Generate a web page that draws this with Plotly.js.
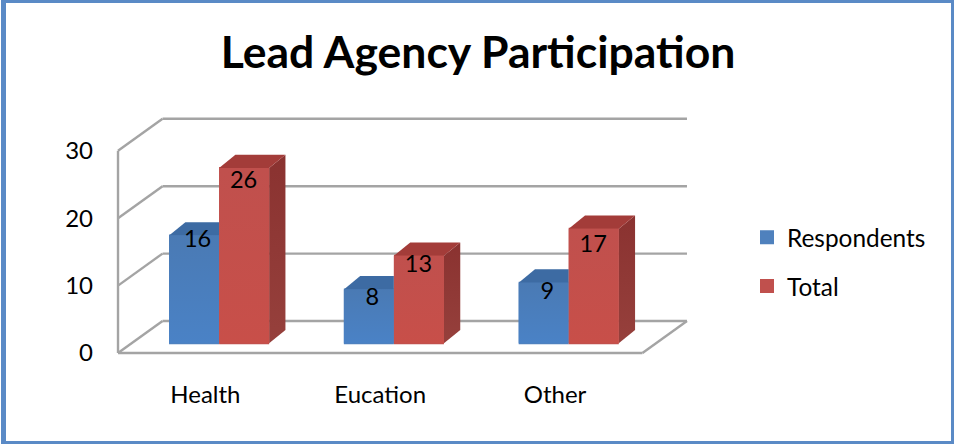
<!DOCTYPE html>
<html>
<head>
<meta charset="utf-8">
<script src="https://cdn.plot.ly/plotly-3.0.1.min.js"></script>
<style>
html,body{margin:0;padding:0;background:#fff;}
#chart{position:absolute;left:0;top:0;width:954px;height:444px;}
#frame{position:absolute;left:1px;top:0;width:953px;height:444px;box-sizing:border-box;border:3px solid #5a8ac6;border-left-width:5px;pointer-events:none;}
</style>
</head>
<body>
<div id="chart"></div>
<div id="frame"></div>
<script>
const categories = ["Health", "Eucation", "Other"];
const respondents = [16, 8, 9];
const total = [26, 13, 17];
const seriesNames = ["Respondents", "Total"];
const yTicks = [0, 10, 20, 30];
const titleText = "Lead Agency Participation";

// ---- projection of the fake 3D box, expressed in axis units ----
const pxPerCat = 174.67, pxPerUnit = 6.74;
const pad = 8;
const wallDx = 44.5 / pxPerCat, wallDy = 32 / pxPerUnit;
const barDx = 16.3 / pxPerCat, barDy = 13.3 / pxPerUnit;
const barW = 50 / pxPerCat, barShift = 13.66 / pxPerCat, barBase = 9.7 / pxPerUnit;
const x0 = -0.5, x1 = categories.length - 0.5;
const xs = categories.map((_, i) => i);
const font = "Lato, 'Open Sans', sans-serif";
const gray = "#a4a4a4";

const traces = [];
function barTrace(name, vals, color, offset) {
  const inset = 1 / pxPerCat;
  return {
    type: "bar", name: name, legendgroup: name,
    x: xs.map(i => i + barShift), y: vals, base: vals.map(() => barBase),
    width: barW - 2 * inset, offset: offset + inset,
    marker: {color: color, line: {color: color, width: 2}},
    hoverinfo: "skip"
  };
}
traces.push(barTrace(seriesNames[0], respondents, "#4f81bd", -barW));
traces.push(barTrace(seriesNames[1], total, "#c0504d", 0));

function poly(xa, ya, extra) {
  return Object.assign({
    type: "scatter", mode: "lines", x: xa.concat(xa[0]), y: ya.concat(ya[0]),
    fill: "toself", line: {width: 0}, showlegend: false, hoverinfo: "skip", cliponaxis: false
  }, extra);
}
function grad(top, bottom) {
  return {fillgradient: {type: "vertical", colorscale: [[0, bottom], [1, top]]}};
}
xs.forEach(i => {
  const c = i + barShift;
  const a = c - barW, b = c, d = c + barW;
  const rt = respondents[i] + barBase, tt = total[i] + barBase;
  // total: side and top
  traces.push(poly([d, d + barDx, d + barDx, d], [barBase, barBase + barDy, tt + barDy, tt], grad("#8a3230", "#96403c")));
  traces.push(poly([b, d, d + barDx, b + barDx], [tt, tt, tt + barDy, tt + barDy], {fillcolor: "#a33c39"}));
  // respondents: top, hidden behind the total bar past its left edge
  traces.push(poly([a, b, b, a + barDx], [rt, rt, rt + barDy, rt + barDy], {fillcolor: "#3d6ba3"}));
  // front faces with their soft gradient
  traces.push(poly([a, b, b, a], [barBase, barBase, rt, rt], grad("#4a7ab4", "#4a82c6")));
  traces.push(poly([b, d, d, b], [barBase, barBase, tt, tt], grad("#c0504d", "#c84f49")));
});

// value labels
const respDrop = [5.7, 9.6, 10];
const totalDrop = [13.7, 10, 17.5];
const labelX = [], labelY = [], labelT = [];
xs.forEach(i => {
  labelX.push(i + barShift - barW / 2 + 3.5 / pxPerCat);
  labelY.push(respondents[i] + barBase - respDrop[i] / pxPerUnit);
  labelT.push(String(respondents[i]));
  labelX.push(i + barShift + barW / 2 - 0.5 / pxPerCat);
  labelY.push(total[i] + barBase - totalDrop[i] / pxPerUnit);
  labelT.push(String(total[i]));
});
traces.push({
  type: "scatter", mode: "text", x: labelX, y: labelY, text: labelT,
  textposition: "middle center", textfont: {family: font, size: 23.5, color: "#000"},
  showlegend: false, hoverinfo: "skip", cliponaxis: false
});

// box wireframe, under the bars
function seg(xa, ya, xb, yb) {
  return {type: "line", xref: "x", yref: "y", layer: "below", x0: xa, y0: ya, x1: xb, y1: yb,
          line: {color: gray, width: 2.4}};
}
const shapes = [];
yTicks.forEach(t => {
  shapes.push(seg(x0, t, x0 + wallDx, t + wallDy));
  shapes.push(seg(x0 + wallDx, t + wallDy, x1 + wallDx, t + wallDy));
});
shapes.push(seg(x0, 0, x0, yTicks[yTicks.length - 1]));
shapes.push(seg(x0, 0, x1, 0));
shapes.push(seg(x1, 0, x1 + wallDx, wallDy));

const plotL = 118 - pad, plotR = 954 - (687 + pad), plotT = 118 - pad, plotB = 444 - (353 + pad);
const plotW = 954 - plotL - plotR;

const layout = {
  width: 954, height: 444,
  paper_bgcolor: "#fff", plot_bgcolor: "rgba(0,0,0,0)",
  margin: {l: plotL, r: plotR, t: plotT, b: plotB, pad: 0},
  barmode: "overlay",
  font: {family: font, color: "#000"},
  title: {text: "<b>" + titleText + "</b>", x: 478 / 954, xanchor: "center", xref: "container",
          y: 1 - 52 / 444, yanchor: "middle", yref: "container",
          font: {family: font, size: 44.5, color: "#000"}},
  xaxis: {
    range: [x0 - pad / pxPerCat, x1 + wallDx + pad / pxPerCat],
    tickmode: "array", tickvals: xs, ticktext: categories,
    showgrid: false, zeroline: false, showline: false, ticks: "",
    tickfont: {family: font, size: 24, color: "#000"}, ticklabelstandoff: 17, fixedrange: true
  },
  yaxis: {
    range: [-pad / pxPerUnit, 235 / pxPerUnit + pad / pxPerUnit],
    tickmode: "array", tickvals: yTicks, ticktext: yTicks.map(String),
    showgrid: false, zeroline: false, showline: false, ticks: "",
    tickfont: {family: font, size: 24, color: "#000"}, ticklabelstandoff: 16, fixedrange: true
  },
  showlegend: true,
  legend: {
    x: (747 - plotL) / plotW, xanchor: "left", y: 1 - (215 - plotT) / (444 - plotT - plotB), yanchor: "top",
    traceorder: "grouped", tracegroupgap: 14, bgcolor: "rgba(0,0,0,0)", borderwidth: 0,
    font: {family: font, size: 24.4, color: "#000"}
  },
  shapes: shapes
};
Plotly.newPlot("chart", traces, layout, {displayModeBar: false, staticPlot: true});
</script>
</body>
</html>
